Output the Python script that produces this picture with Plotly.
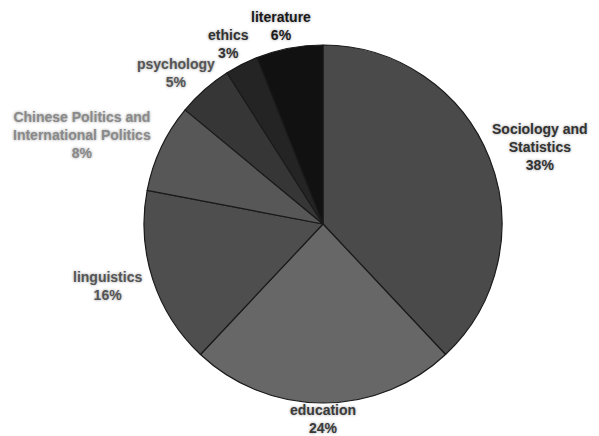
import math
import plotly.graph_objects as go

categories = ["Sociology and<br>Statistics", "education", "linguistics",
              "Chinese Politics and<br>International Politics", "psychology",
              "ethics", "literature"]
values = [38, 24, 16, 8, 5, 3, 6]
slice_colors = ["#4a4a4a", "#676767", "#4e4e4e", "#575757", "#363636", "#242424", "#111111"]
label_colors = ["#333333", "#3a3a3a", "#555555", "#8a8a8a", "#555555", "#333333", "#1a1a1a"]

W, H = 599, 436
CX, CY, R = 323, 224, 179          # pie centre / radius in pixels
FONT = "Liberation Sans, Arial, sans-serif"
FS = 14

fig = go.Figure(go.Pie(
    labels=categories,
    values=values,
    sort=False,
    direction="clockwise",
    rotation=0,
    marker=dict(colors=slice_colors, line=dict(color="#1a1a1a", width=1.2)),
    textinfo="none",
    hoverinfo="skip",
    showlegend=False,
    domain=dict(x=[(CX - R) / W, (CX + R) / W],
                y=[(H - CY - R) / H, (H - CY + R) / H]),
))

# outside labels, placed from each slice's mid-angle
total = sum(values)
cum = 0
annotations = []
for lab, v, col in zip(categories, values, label_colors):
    mid = (cum + v / 2) / total * 2 * math.pi
    cum += v
    ux, uy = math.sin(mid), -math.cos(mid)
    lines = lab.split("<br>")
    n = len(lines) + 1
    w = 7.3 * max(len(s) for s in lines)
    h = 15.5 * n
    d = R + 7
    px = CX + ux * d + ux * w / 2
    py = CY + uy * d + uy * h / 2
    half_real = 8.6 * n
    py = min(max(py, half_real + 1), H - half_real)
    pct = round(v / total * 100)
    annotations.append(dict(
        x=px / W, y=1 - py / H, xref="paper", yref="paper",
        xanchor="center", yanchor="middle", showarrow=False,
        text=f"{lab}<br>{pct}%", align="center",
        font=dict(family=FONT, size=FS, color=col, weight="bold",
                  shadow="0px 0px 3px #9a9a9a"),
    ))

fig.update_layout(
    width=W, height=H,
    margin=dict(l=0, r=0, t=0, b=0),
    paper_bgcolor="white",
    plot_bgcolor="white",
    annotations=annotations,
)

fig.write_html("out.html")
